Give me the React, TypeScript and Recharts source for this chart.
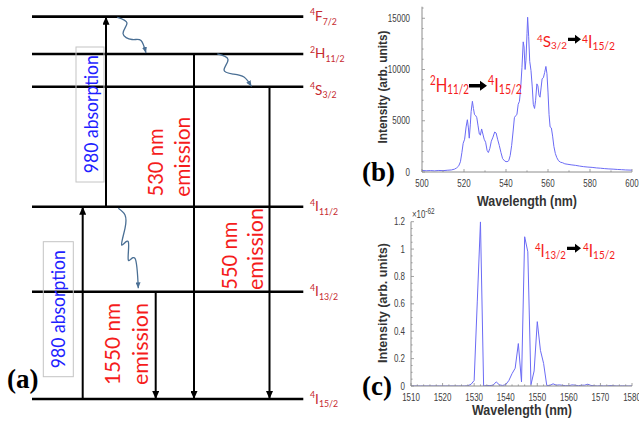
import React from "react";
import { ComposedChart, LineChart, Line, XAxis, YAxis, ReferenceLine } from "recharts";

// ---------- (a) energy level diagram ----------
const levelEnergy = [0, 1.076, 1.928, 3.131, 3.459, 3.833];
const levelSup = ["4", "4", "4", "4", "2", "4"];
const levelLetter = ["I", "I", "I", "S", "H", "F"];
const levelSub = ["15/2", "13/2", "11/2", "3/2", "11/2", "7/2"];

// vertical transitions: column, from level, to level
const transitionX = [8.27, 10.6, 15.57, 19.4, 26.95];
const transitionFrom = [0, 2, 1, 4, 3];
const transitionTo = [2, 5, 0, 0, 0];

// non-radiative relaxation squiggles
const relaxX = [
  [11.73, 12.7, 12.3, 13.2, 14.1, 14.6],
  [21.73, 22.8, 22.4, 23.3, 24.4, 25.15],
  [11.83, 12.5, 12.5, 12.17, 12.83, 12.83, 13.5, 13.83],
];
const relaxY = [
  [3.827, 3.769, 3.664, 3.604, 3.594, 3.469],
  [3.459, 3.404, 3.298, 3.258, 3.228, 3.133],
  [1.912, 1.845, 1.711, 1.544, 1.577, 1.394, 1.411, 1.11],
];

// ---------- (b) visible spectrum ----------
const visWavelength = [
  500, 502, 504, 506, 508, 510, 512, 514, 515.5, 516.5, 517.5, 518.3, 519, 519.6, 520.3, 521, 521.6,
  522.1, 522.5, 523, 523.4, 524, 524.5, 525, 525.6, 526.1, 526.7, 527.3, 527.8, 528.4, 529, 529.6,
  530.3, 531, 531.6, 532.3, 533, 533.8, 534.6, 535.3, 536, 536.8, 537.6, 538.4, 539.5, 540.5, 541.3,
  542, 542.7, 543.4, 544, 544.6, 545.2, 545.8, 546.4, 547, 547.6, 548.2, 548.6, 549.1, 549.5, 550,
  550.3, 550.8, 551.3, 551.9, 552.5, 553, 553.6, 554.1, 554.7, 555.2, 555.7, 556.2, 556.7, 557.2,
  557.8, 558.4, 559, 559.5, 560, 560.5, 561, 561.6, 562.2, 562.8, 563.5, 564.2, 565, 566, 567, 568,
  569.5, 571, 573, 575, 577, 579, 581, 583, 585, 587, 589, 591, 593, 595, 597, 600,
];
const visIntensity = [
  150, 120, 140, 110, 150, 130, 170, 200, 280, 400, 600, 1000, 1900, 2800, 3200, 4400, 5100,
  4300, 3300, 4600, 5900, 6900, 6200, 5600, 5500, 5300, 4500, 3700, 3600, 4200, 3700, 3200,
  2900, 2100, 1900, 2300, 3000, 3400, 3900, 3800, 3200, 2600, 1900, 1300, 1050, 1000, 1100,
  1600, 2600, 4000, 5300, 5500, 5600, 6600, 6900, 8200, 10200, 12700, 12200, 10000, 10900, 13500,
  15100, 13200, 10800, 9900, 8300, 6600, 6200, 7000, 8600, 8400, 7500, 7300, 8200, 9100,
  9200, 9700, 10300, 9600, 7800, 5600, 4400, 4300, 3500, 2500, 1800, 1400, 1100, 950, 900, 800,
  750, 700, 650, 580, 520, 480, 450, 400, 370, 330, 300, 280, 250, 230, 200, 180,
];
const visXTicks = [500, 520, 540, 560, 580, 600];
const visYTicks = [0, 5000, 10000, 15000];

// ---------- (c) infrared spectrum ----------
const irWavelength = [
  1510, 1511, 1512, 1513, 1514, 1515, 1516, 1517, 1518, 1519, 1520, 1521, 1522, 1523, 1524, 1525,
  1526, 1527, 1528, 1529, 1530, 1531, 1532, 1533, 1534, 1535, 1536, 1537, 1538, 1539, 1540, 1541,
  1542, 1543, 1544, 1545, 1546, 1547, 1548, 1549, 1550, 1551, 1552, 1553, 1554, 1555, 1556, 1557,
  1558, 1559, 1560, 1561, 1562, 1563, 1564, 1565, 1566, 1567, 1568, 1569, 1570, 1571, 1572, 1573,
  1574, 1575, 1576, 1577, 1578, 1579, 1580,
];
const irIntensity = [
  0, 0, 0, 0, 0, 0, 0, 0, 0, 0, 0, 0, 0, 0, 0, 0,
  0, 0, 0.002, 0.012, 0.04, 0.62, 1.2, 0, 0.004, 0.003, 0.006, 0.03, 0.008, 0.004, 0.01, 0.04,
  0.09, 0.13, 0.31, 0.03, 1.09, 0.98, 0.01, 0.11, 0.47, 0.26, 0.165, 0.004, 0.004, 0.016, 0.006, 0.008,
  0.005, 0.002, 0.002, 0.008, 0.006, 0.002, 0.006, 0.006, 0.013, 0.004, 0.002, 0, 0.002, 0, 0, 0.003,
  0.002, 0, 0, 0.001, 0, 0, 0,
];
const irXTicks = [1510, 1520, 1530, 1540, 1550, 1560, 1570, 1580];
const irYTicks = [0, 0.2, 0.4, 0.6, 0.8, 1, 1.2];

const visData = visWavelength.map((w, i) => ({ w, v: visIntensity[i] }));
const irData = irWavelength.map((w, i) => ({ w, v: irIntensity[i] }));

const steps = (a: number, b: number, s: number) => {
  const out: number[] = [];
  for (let k = 0; a + k * s <= b + 1e-9; k++) out.push(Math.round((a + k * s) * 1000) / 1000);
  return out;
};

const FIG_FONT = "Lato, 'Open Sans', sans-serif";
const AX_FONT = "'Liberation Sans', Arial, sans-serif";
const AX_GRAY = "#8c8c8c";
const LINE_BLUE = "#6b6bf5";
const RED = "#f51c1c";

function Term({ sup, letter, sub, size, up = 0.42, down = 0.25 }: any) {
  return (
    <>
      <tspan fontSize={size * 0.65} dy={-size * up}>{sup}</tspan>
      <tspan fontSize={size} dy={size * up}>{letter}</tspan>
      <tspan fontSize={size * 0.65} dy={size * down}>{sub}</tspan>
    </>
  );
}

function makeTick(side: string, majors: number[], withLabel: boolean, gap: number) {
  return (props: any) => {
    const { x, y, payload } = props;
    const v = payload.value;
    const major = majors.some((m) => Math.abs(m - v) < 1e-6);
    const len = major ? 3 : 1.6;
    let line;
    if (side === "bottom") line = <line x1={x} y1={y} x2={x} y2={y - len} />;
    else if (side === "top") line = <line x1={x} y1={y} x2={x} y2={y + len} />;
    else if (side === "left") line = <line x1={x} y1={y} x2={x + len} y2={y} />;
    else line = <line x1={x} y1={y} x2={x - len} y2={y} />;
    let label = null;
    if (withLabel && major) {
      const tx = side === "left" ? x - gap : x;
      const ty = side === "left" ? y + 3.6 : y + gap;
      label = (
        <g transform={`translate(${tx},${ty}) scale(0.76,1)`}>
          <text x={0} y={0} textAnchor={side === "left" ? "end" : "middle"} fontSize={10.5} fontFamily={AX_FONT} fill="#404040" stroke="none">
            {String(v)}
          </text>
        </g>
      );
    }
    return (
      <g stroke={AX_GRAY} strokeWidth={0.8}>
        {line}
        {label}
      </g>
    );
  };
}

function Spectrum({ data, xDomain, yDomain, xTicks, yTicks, xMinor, yMinor, width, height, margin, yWidth, xHeight, yGap }: any) {
  const xAll = Array.from(new Set([...xMinor, ...xTicks])).sort((a: any, b: any) => a - b);
  const yAll = Array.from(new Set([...yMinor, ...yTicks])).sort((a: any, b: any) => a - b);
  return (
    <LineChart width={width} height={height} data={data} margin={margin}>
      <XAxis dataKey="w" type="number" domain={xDomain} ticks={xAll} interval={0} allowDataOverflow
        tickSize={0} tickMargin={0} tickLine={false} axisLine={{ stroke: AX_GRAY }} height={xHeight}
        tick={makeTick("bottom", xTicks, true, 15)} />
      <XAxis xAxisId="t" orientation="top" type="number" domain={xDomain} ticks={xAll} interval={0} allowDataOverflow
        tickSize={0} tickMargin={0} tickLine={false} axisLine={{ stroke: AX_GRAY }} height={0}
        tick={makeTick("top", xTicks, false, 0)} />
      <YAxis type="number" domain={yDomain} ticks={yAll} interval={0} allowDataOverflow
        tickSize={0} tickMargin={0} tickLine={false} axisLine={{ stroke: AX_GRAY }} width={yWidth}
        tick={makeTick("left", yTicks, true, yGap)} />
      <YAxis yAxisId="r" orientation="right" type="number" domain={yDomain} ticks={yAll} interval={0} allowDataOverflow
        tickSize={0} tickMargin={0} tickLine={false} axisLine={{ stroke: AX_GRAY }} width={0}
        tick={makeTick("right", yTicks, false, 0)} />
      <Line dataKey="v" type="linear" stroke={LINE_BLUE} strokeWidth={1} dot={false} activeDot={false} isAnimationActive={false} />
    </LineChart>
  );
}

function FatArrow({ x1, x2, y, t = 3.4, hw = 10, hl = 7 }: any) {
  const d = `M${x1},${y - t / 2} L${x2 - hl},${y - t / 2} L${x2 - hl},${y - hw / 2} L${x2},${y} L${x2 - hl},${y + hw / 2} L${x2 - hl},${y + t / 2} L${x1},${y + t / 2} Z`;
  return <path d={d} fill="#000" />;
}

function VText({ x, y, len, size, color, children }: any) {
  return (
    <text transform={`translate(${x},${y}) rotate(-90)`} textAnchor="middle" fontSize={size} fontFamily={FIG_FONT}
      fill={color} textLength={len} lengthAdjust="spacingAndGlyphs">
      {children}
    </text>
  );
}

function LevelLabel(props: any) {
  const vb = props.viewBox;
  const i = props.idx;
  return (
    <text x={vb.x + vb.width + 6.7} y={vb.y + (levelLetter[i] === "S" ? 8 : 4.5)} fontFamily={FIG_FONT} fill="#c62a2f">
      <Term sup={levelSup[i]} letter={levelLetter[i]} sub={levelSub[i]} size={13.5} />
    </text>
  );
}

function Diagram() {
  return (
    <ComposedChart width={358} height={422} margin={{ top: 0, right: 0, bottom: 0, left: 0 }}>
      <XAxis dataKey="x" type="number" domain={[0, 35.8]} hide allowDataOverflow />
      <YAxis type="number" domain={[-0.23, 4.0]} hide allowDataOverflow />
      {levelEnergy.map((e, i) => (
        <ReferenceLine key={`lv${i}`} segment={[{ x: 3.2, y: e }, { x: 30.33, y: e }]} stroke="#000" strokeWidth={2.6}
          label={(p: any) => <LevelLabel {...p} idx={i} />} />
      ))}
      {transitionX.map((x, i) => (
        <Line key={`tr${i}`} data={[{ x, y: levelEnergy[transitionFrom[i]] }, { x, y: levelEnergy[transitionTo[i]] }]}
          dataKey="y" type="linear" stroke="#000" strokeWidth={2} dot={false} activeDot={false}
          isAnimationActive={false} markerEnd="url(#headBlack)" />
      ))}
      {relaxX.map((xs, i) => (
        <Line key={`rx${i}`} data={xs.map((x, k) => ({ x, y: relaxY[i][k] }))} dataKey="y" type="natural"
          stroke="#4a6f94" strokeWidth={1.3} dot={false} activeDot={false} isAnimationActive={false}
          markerEnd="url(#headBlue)" />
      ))}
    </ComposedChart>
  );
}

export default function App() {
  return (
    <div style={{ position: "fixed", left: 0, top: 0, width: 639, height: 422, background: "#fff", overflow: "hidden" }}>
      <svg width={0} height={0} style={{ position: "absolute" }}>
        <defs>
          <marker id="headBlack" markerUnits="userSpaceOnUse" markerWidth={8} markerHeight={7} viewBox="0 0 8 7" refX={8} refY={3.5} orient="auto">
            <path d="M0,0 L8,3.5 L0,7 Z" fill="#000" />
          </marker>
          <marker id="headBlue" markerUnits="userSpaceOnUse" markerWidth={6} markerHeight={5} viewBox="0 0 6 5" refX={6} refY={2.5} orient="auto">
            <path d="M0,0 L6,2.5 L0,5 Z" fill="#4a6f94" />
          </marker>
        </defs>
      </svg>

      <div style={{ position: "absolute", left: 0, top: 0 }}>
        <Diagram />
      </div>
      <div style={{ position: "absolute", left: 360, top: 0 }}>
        <Spectrum data={visData} xDomain={[500, 600]} yDomain={[0, 16130]} xTicks={visXTicks} yTicks={visYTicks}
          xMinor={steps(500, 600, 10)} yMinor={steps(0, 16000, 1000)} width={279} height={210}
          margin={{ top: 6.7, right: 7, bottom: 0, left: 0 }} yWidth={62} xHeight={38} yGap={12} />
      </div>
      <div style={{ position: "absolute", left: 360, top: 200 }}>
        <Spectrum data={irData} xDomain={[1510, 1580]} yDomain={[0, 1.2]} xTicks={irXTicks} yTicks={irYTicks}
          xMinor={steps(1510, 1580, 2)} yMinor={steps(0, 1.2, 0.05)} width={279} height={222}
          margin={{ top: 21.7, right: 7, bottom: 0, left: 0 }} yWidth={51} xHeight={36} yGap={6} />
      </div>

      <svg width={639} height={422} style={{ position: "absolute", left: 0, top: 0, pointerEvents: "none" }}>
        {/* (a) boxes and transition labels */}
        <rect x={76} y={47} width={28} height={135} fill="none" stroke="#c4c4c4" strokeWidth={1} />
        <rect x={43.3} y={241.7} width={30} height={135} fill="none" stroke="#c4c4c4" strokeWidth={1} />
        <VText x={98.3} y={114.2} len={118} size={18.5} color="#1f1fff">980 absorption</VText>
        <VText x={65} y={309.2} len={118} size={18.5} color="#1f1fff">980 absorption</VText>
        <VText x={163.3} y={162.5} len={68} size={22} color={RED}>530 nm</VText>
        <VText x={190} y={156.7} len={80} size={22} color={RED}>emission</VText>
        <VText x={236.7} y={255.8} len={68} size={22} color={RED}>550 nm</VText>
        <VText x={263.3} y={249} len={82} size={22} color={RED}>emission</VText>
        <VText x={120} y={344} len={82} size={22} color={RED}>1550 nm</VText>
        <VText x={148.3} y={344} len={82} size={22} color={RED}>emission</VText>

        {/* panel letters */}
        <text x={7} y={388} fontSize={27} fontWeight="bold" fontFamily="'Liberation Serif', 'Times New Roman', serif">(a)</text>
        <text x={362} y={181} fontSize={27} fontWeight="bold" fontFamily="'Liberation Serif', 'Times New Roman', serif">(b)</text>
        <text x={362} y={395} fontSize={27} fontWeight="bold" fontFamily="'Liberation Serif', 'Times New Roman', serif">(c)</text>

        {/* axis titles */}
        <text x={527} y={206} textAnchor="middle" fontSize={14} fontWeight="bold" fontFamily={AX_FONT} fill="#333"
          textLength={100} lengthAdjust="spacingAndGlyphs">Wavelength (nm)</text>
        <text x={522} y={415} textAnchor="middle" fontSize={14} fontWeight="bold" fontFamily={AX_FONT} fill="#333"
          textLength={100} lengthAdjust="spacingAndGlyphs">Wavelength (nm)</text>
        <text transform="translate(387,87) rotate(-90)" textAnchor="middle" fontSize={12.5} fontWeight="bold" fontFamily={AX_FONT}
          fill="#333" textLength={113} lengthAdjust="spacingAndGlyphs">Intensity (arb. units)</text>
        <text transform="translate(387,303) rotate(-90)" textAnchor="middle" fontSize={12.5} fontWeight="bold" fontFamily={AX_FONT}
          fill="#333" textLength={120} lengthAdjust="spacingAndGlyphs">Intensity (arb. units)</text>

        {/* exponent of (c) */}
        <g transform="translate(412,218) scale(0.75,1)">
          <text x={0} y={0} fontSize={10.5} fontFamily={AX_FONT} fill="#404040">
            ×10<tspan fontSize={8.5} dy={-4}>-62</tspan>
          </text>
        </g>

        {/* transition annotations */}
        <text x={430} y={91.7} fontFamily={FIG_FONT} fill={RED} textLength={39} lengthAdjust="spacingAndGlyphs">
          <Term sup="2" letter="H" sub="11/2" size={20} up={0.33} down={0.1} />
        </text>
        <FatArrow x1={469} x2={487} y={85.7} />
        <text x={488} y={91.7} fontFamily={FIG_FONT} fill={RED} textLength={34} lengthAdjust="spacingAndGlyphs">
          <Term sup="4" letter="I" sub="15/2" size={20} up={0.33} down={0.1} />
        </text>

        <text x={537} y={47} fontFamily={FIG_FONT} fill={RED} textLength={30} lengthAdjust="spacingAndGlyphs">
          <Term sup="4" letter="S" sub="3/2" size={16} up={0.33} down={0.12} />
        </text>
        <FatArrow x1={568} x2={581} y={39.3} t={3.2} hw={9} hl={6} />
        <text x={582} y={48} fontFamily={FIG_FONT} fill={RED} textLength={33} lengthAdjust="spacingAndGlyphs">
          <Term sup="4" letter="I" sub="15/2" size={16.5} up={0.33} down={0.12} />
        </text>

        <text x={535} y={257} fontFamily={FIG_FONT} fill={RED} textLength={31} lengthAdjust="spacingAndGlyphs">
          <Term sup="4" letter="I" sub="13/2" size={17} up={0.33} down={0.12} />
        </text>
        <FatArrow x1={567} x2={581} y={248.3} t={3.2} hw={9} hl={6} />
        <text x={583} y={257} fontFamily={FIG_FONT} fill={RED} textLength={32} lengthAdjust="spacingAndGlyphs">
          <Term sup="4" letter="I" sub="15/2" size={17} up={0.33} down={0.12} />
        </text>
      </svg>
    </div>
  );
}
